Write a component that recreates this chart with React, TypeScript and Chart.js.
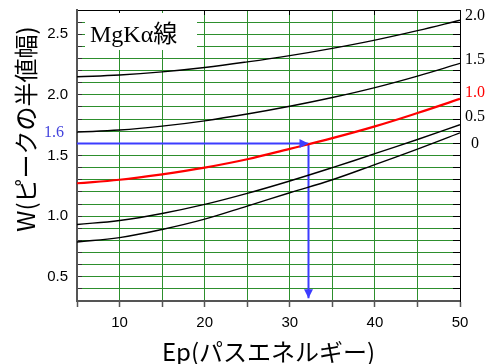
import React, { useEffect, useRef } from 'react';
import { Chart, registerables } from 'chart.js';

Chart.register(...registerables);

// ---- data ----
const EP = [5, 10, 15, 20, 25, 30, 35, 40, 45, 50];
const W_20 = [2.149, 2.164, 2.19, 2.226, 2.272, 2.324, 2.384, 2.452, 2.53, 2.616];
const W_15 = [1.693, 1.71, 1.742, 1.786, 1.842, 1.906, 1.978, 2.06, 2.155, 2.26];
const W_10 = [1.271, 1.3, 1.345, 1.4, 1.469, 1.555, 1.643, 1.74, 1.85, 1.967];
const W_05 = [0.931, 0.964, 1.022, 1.097, 1.188, 1.29, 1.4, 1.515, 1.632, 1.754];
const W_00 = [0.787, 0.823, 0.89, 0.975, 1.083, 1.193, 1.3, 1.425, 1.553, 1.687];
const SERIES = [W_20, W_15, W_10, W_05, W_00];
const SERIES_NAMES = ['2.0', '1.5', '1.0', '0.5', '0'];
const SERIES_LABEL_W = [2.65, 2.288, 2.015, 1.818, 1.595];
const HIGHLIGHT_INDEX = 2;

const X_MIN = 5;
const X_MAX = 50;
const Y_MIN = 0.3;
const Y_MAX = 2.7;

const READ_W = 1.6;
const READ_EP = 32.2;
const ARROW_END_W = 0.322;
const READ_LABEL = '1.6';
const BOX_LABEL = 'MgKα線';
const X_TITLE = 'Ep(パスエネルギー)';
const Y_TITLE = 'W(ピークの半値幅)';

// ---- style ----
const GREEN = '#2d8f2d';
const BLUE = '#3c3cff';
const RED = '#ff0000';
const SANS = '"Liberation Sans", Arial, sans-serif';
const SERIF = '"Liberation Serif", "Times New Roman", serif';
const CJK = '"Noto Sans CJK JP", sans-serif';
const CLEAR = 'rgba(0,0,0,0)';

const near = (a: number, b: number) => Math.abs(a - b) < 1e-6;
const isHalf = (v: number) => Math.abs(v * 2 - Math.round(v * 2)) < 1e-6;

const noPad = (s: any) => {
  s.paddingTop = 0;
  s.paddingBottom = 0;
  s.paddingLeft = 0;
  s.paddingRight = 0;
};

const annotationPlugin = {
  id: 'annotations',
  beforeDatasetsDraw(chart: any) {
    const { ctx, chartArea } = chart;
    ctx.save();
    ctx.fillStyle = '#ffffff';
    ctx.fillRect(chartArea.left + 8, chartArea.top + 3, 112, 37);
    ctx.fillStyle = '#000';
    ctx.font = `24px ${SERIF}, ${CJK}`;
    ctx.textAlign = 'left';
    ctx.textBaseline = 'alphabetic';
    ctx.fillText(BOX_LABEL, chartArea.left + 13, chartArea.top + 32);
    ctx.restore();
  },
  afterDatasetsDraw(chart: any) {
    const { ctx, chartArea } = chart;
    ctx.save();
    // arrow heads
    chart.data.datasets.forEach((ds: any, i: number) => {
      if (!ds.isArrow) return;
      const pts = chart.getDatasetMeta(i).data;
      const p0 = pts[pts.length - 2];
      const p1 = pts[pts.length - 1];
      const ang = Math.atan2(p1.y - p0.y, p1.x - p0.x);
      const len = 9;
      const half = 4.5;
      const tx = p1.x;
      const ty = p1.y;
      const bx = tx - Math.cos(ang) * len;
      const by = ty - Math.sin(ang) * len;
      ctx.fillStyle = ds.borderColor;
      ctx.beginPath();
      ctx.moveTo(tx, ty);
      ctx.lineTo(bx - Math.sin(ang) * half, by + Math.cos(ang) * half);
      ctx.lineTo(bx + Math.sin(ang) * half, by - Math.cos(ang) * half);
      ctx.closePath();
      ctx.fill();
    });
    // read-off label
    const yScale = chart.scales.y;
    ctx.fillStyle = '#4444dd';
    ctx.font = `16px ${SERIF}`;
    ctx.textAlign = 'right';
    ctx.textBaseline = 'middle';
    ctx.fillText(READ_LABEL, chartArea.left - 13, yScale.getPixelForValue(READ_W) - 11);
    // y title
    ctx.translate(26, chartArea.top + 119);
    ctx.rotate(-Math.PI / 2);
    ctx.fillStyle = '#000';
    ctx.font = `24px ${CJK}`;
    ctx.textAlign = 'center';
    ctx.textBaseline = 'middle';
    ctx.fillText(Y_TITLE, 0, 0);
    ctx.restore();
  },
};

export default function App() {
  const ref = useRef<HTMLCanvasElement | null>(null);

  useEffect(() => {
    if (!ref.current) return;
    const curves = SERIES.map((arr, i) => ({
      label: SERIES_NAMES[i],
      data: EP.map((x, j) => ({ x, y: arr[j] })),
      borderColor: i === HIGHLIGHT_INDEX ? RED : '#000',
      borderWidth: i === HIGHLIGHT_INDEX ? 2.2 : 1.4,
      pointRadius: 0,
      tension: 0.4,
      fill: false,
    }));
    const arrows = [
      {
        label: 'arrowH',
        isArrow: true,
        data: [
          { x: X_MIN, y: READ_W },
          { x: READ_EP, y: READ_W },
        ],
        borderColor: BLUE,
        borderWidth: 2,
        pointRadius: 0,
        tension: 0,
        fill: false,
      },
      {
        label: 'arrowV',
        isArrow: true,
        data: [
          { x: READ_EP, y: READ_W },
          { x: READ_EP, y: ARROW_END_W },
        ],
        borderColor: BLUE,
        borderWidth: 2,
        pointRadius: 0,
        tension: 0,
        fill: false,
      },
    ];

    const chart = new Chart(ref.current, {
      type: 'line',
      data: { datasets: [...curves, ...arrows] as any },
      options: {
        animation: false,
        responsive: false,
        maintainAspectRatio: false,
        layout: { padding: 0 },
        plugins: { legend: { display: false }, tooltip: { enabled: false } },
        scales: {
          x: {
            type: 'linear',
            position: 'bottom',
            min: X_MIN,
            max: X_MAX,
            ticks: {
              stepSize: 5,
              autoSkip: false,
              maxRotation: 0,
              padding: 7,
              color: '#000',
              font: { family: SANS, size: 15 },
              callback: (v: any) => (Number(v) % 10 === 0 ? String(v) : ''),
            },
            grid: {
              color: (c: any) =>
                c.tick && (near(c.tick.value, X_MIN) || near(c.tick.value, X_MAX)) ? CLEAR : GREEN,
              lineWidth: 1,
              tickLength: 6,
              tickColor: '#555',
              tickWidth: 1.5,
            },
            border: { display: true, color: '#555', width: 2 },
            title: {
              display: true,
              text: X_TITLE,
              color: '#000',
              font: { family: CJK, size: 24, lineHeight: 1 },
              padding: { top: 0, bottom: 0 },
            },
            afterFit: (s: any) => {
              s.height = 63;
              noPad(s);
            },
          },
          x2: {
            type: 'linear',
            position: 'top',
            min: X_MIN,
            max: X_MAX,
            ticks: { stepSize: 10, display: false },
            grid: { drawOnChartArea: false, tickLength: -5, tickColor: '#000' },
            border: { display: true, color: '#000', width: 1 },
            afterFit: (s: any) => {
              s.height = 10;
              noPad(s);
            },
          },
          y: {
            type: 'linear',
            position: 'left',
            min: Y_MIN,
            max: Y_MAX,
            ticks: {
              stepSize: 0.1,
              autoSkip: false,
              padding: 14,
              color: '#000',
              font: { family: SANS, size: 15 },
              callback: (v: any) => (isHalf(Number(v)) ? Number(v).toFixed(1) : ''),
            },
            grid: {
              color: (c: any) =>
                c.tick && (near(c.tick.value, Y_MIN) || near(c.tick.value, Y_MAX)) ? CLEAR : GREEN,
              lineWidth: 1,
              tickLength: -5,
              tickColor: '#333',
            },
            border: { display: true, color: '#555', width: 2 },
            afterFit: (s: any) => {
              s.width = 77;
              noPad(s);
            },
          },
          y2: {
            type: 'linear',
            position: 'right',
            weight: 0,
            min: Y_MIN,
            max: Y_MAX,
            ticks: { stepSize: 0.1, display: false, autoSkip: false },
            grid: { drawOnChartArea: false, tickLength: -7, tickColor: '#000' },
            border: { display: true, color: '#000', width: 1 },
            afterFit: (s: any) => {
              s.width = 0;
              noPad(s);
            },
          },
          y3: {
            type: 'linear',
            position: 'right',
            weight: 1,
            min: Y_MIN,
            max: Y_MAX,
            afterBuildTicks: (s: any) => {
              s.ticks = SERIES_LABEL_W.map((v) => ({ value: v }));
            },
            ticks: {
              autoSkip: false,
              padding: 5,
              crossAlign: 'center',
              color: (c: any) => (c.index === HIGHLIGHT_INDEX ? RED : '#000'),
              font: { family: SERIF, size: 16 },
              callback: (_v: any, i: number) => SERIES_NAMES[i],
            },
            grid: { display: false, drawTicks: false, tickLength: 0 },
            border: { display: false },
            afterFit: (s: any) => {
              s.width = 26;
              noPad(s);
            },
          },
        },
      } as any,
      plugins: [annotationPlugin],
    });
    return () => chart.destroy();
  }, []);

  return (
    <div style={{ position: 'fixed', left: 0, top: 0, width: 486, height: 364, background: '#fff' }}>
      <canvas ref={ref} width={486} height={364} style={{ display: 'block' }} />
    </div>
  );
}
